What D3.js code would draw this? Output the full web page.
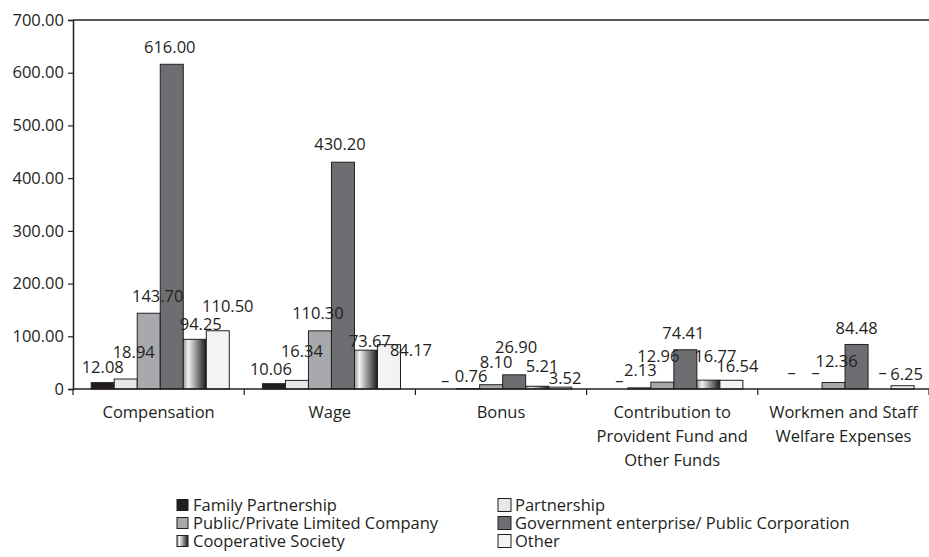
<!DOCTYPE html>
<html>
<head>
<meta charset="utf-8">
<script src="https://cdn.jsdelivr.net/npm/d3@7"></script>
<style>
  body { margin: 0; background: #fff; }
  text { font-family: "Open Sans", sans-serif; font-size: 16.5px; fill: #231f20; }
</style>
</head>
<body>
<svg id="chart" width="929" height="557"></svg>
<script>
// categories (multi-line labels)
const categories = [
  ["Compensation"],
  ["Wage"],
  ["Bonus"],
  ["Contribution to", "Provident Fund and", "Other Funds"],
  ["Workmen and Staff", "Welfare Expenses"]
];
const series = [
  "Family Partnership",
  "Partnership",
  "Public/Private Limited Company",
  "Government enterprise/ Public Corporation",
  "Cooperative Society",
  "Other"
];
// null = shown as a dash in the source
const familyPartnership = [12.08, 10.06, null, null, null];
const partnership       = [18.94, 16.34, 0.76, 2.13, null];
const publicPrivate     = [143.70, 110.30, 8.10, 12.96, 12.36];
const government        = [616.00, 430.20, 26.90, 74.41, 84.48];
const cooperative       = [94.25, 73.67, 5.21, 16.77, null];
const other             = [110.50, 84.17, 3.52, 16.54, 6.25];
const yTicks = [0, 100, 200, 300, 400, 500, 600, 700];

const values = [familyPartnership, partnership, publicPrivate, government, cooperative, other];

// label nudges [dx, gap above bar], per category then series (labels were hand-placed)
const labelNudge = [
  [[0, 10], [8, 21], [9, 11], [-2, 11], [6, 9], [10, 19]],
  [[-3, 9], [5, 23], [-2, 12], [-3, 12], [4, 3], [22, -11]],
  [[0, 3], [3, 7], [5, 17], [2, 22], [5, 14], [5, 3]],
  [[3, 3], [1, 12], [-4, 20], [-2, 11], [7, 18], [6, 8]],
  [[4, 11], [5, 11], [3, 15], [0, 10], [3, 11], [4, 6]]
];

const fills = ["#231f20", "#e6e7e8", "#a7a9ac", "#6d6e71", "url(#coopGrad)", "#f3f3f3"];

const svg = d3.select("#chart");
const margin = { top: 20, left: 73, right: 0 };
const width = 929, zeroY = 389;

const defs = svg.append("defs");
const grad = defs.append("linearGradient").attr("id", "coopGrad")
  .attr("x1", "0%").attr("x2", "100%").attr("y1", "0%").attr("y2", "0%");
grad.append("stop").attr("offset", "0%").attr("stop-color", "#9a9a9a");
grad.append("stop").attr("offset", "22%").attr("stop-color", "#f2f2f2");
grad.append("stop").attr("offset", "100%").attr("stop-color", "#1a1a1a");

const x0 = d3.scaleBand()
  .domain(d3.range(categories.length))
  .range([margin.left, width - margin.right])
  .paddingInner(0).paddingOuter(0);

const x1 = d3.scaleBand()
  .domain(d3.range(series.length))
  .range([0, x0.bandwidth()])
  .paddingInner(0).paddingOuter(0.72).align(0.55);

const y = d3.scaleLinear().domain([0, 700]).range([zeroY, margin.top]);

// top border
svg.append("line")
  .attr("x1", margin.left).attr("x2", width)
  .attr("y1", y(700)).attr("y2", y(700))
  .attr("stroke", "#231f20").attr("stroke-width", 1.5);

// y axis
const yAxis = d3.axisLeft(y)
  .tickValues(yTicks)
  .tickSize(5)
  .tickPadding(4)
  .tickFormat(d => d === 0 ? "0" : d.toFixed(2));
const yG = svg.append("g")
  .attr("transform", `translate(${margin.left},0)`)
  .call(yAxis);
yG.select(".domain").attr("stroke", "#231f20").attr("stroke-width", 1.5);
yG.selectAll(".tick line").attr("stroke", "#231f20").attr("stroke-width", 1.2);
yG.selectAll(".tick text")
  .style("font-family", "'Open Sans', sans-serif")
  .style("font-size", "16.5px")
  .attr("fill", "#231f20");

// bars
const groups = svg.selectAll(".group")
  .data(categories)
  .enter()
  .append("g")
  .attr("class", "group")
  .attr("transform", (d, i) => `translate(${x0(i)},0)`);

groups.each(function (cat, ci) {
  const g = d3.select(this);
  const row = series.map((s, si) => ({ si, v: values[si][ci] }));

  g.selectAll("rect")
    .data(row.filter(d => d.v !== null))
    .enter()
    .append("rect")
    .attr("x", d => x1(d.si))
    .attr("width", x1.bandwidth())
    .attr("y", d => y(d.v))
    .attr("height", d => zeroY - y(d.v))
    .attr("fill", d => fills[d.si])
    .attr("stroke", "#231f20")
    .attr("stroke-width", 1);

  g.selectAll("text.val")
    .data(row)
    .enter()
    .append("text")
    .attr("class", "val")
    .attr("text-anchor", "middle")
    .attr("x", d => x1(d.si) + x1.bandwidth() / 2 + labelNudge[ci][d.si][0])
    .attr("y", d => y(d.v === null ? 0 : d.v) - labelNudge[ci][d.si][1])
    .text(d => d.v === null ? "\u2013" : d.v.toFixed(2));
});

// x axis baseline and ticks between categories
svg.append("line")
  .attr("x1", margin.left).attr("x2", width)
  .attr("y1", zeroY).attr("y2", zeroY)
  .attr("stroke", "#231f20").attr("stroke-width", 1.5);

const bounds = d3.range(categories.length).map(i => x0(i)).concat([x0.range()[1]]);
svg.selectAll(".xtick")
  .data(bounds)
  .enter()
  .append("line")
  .attr("x1", d => d).attr("x2", d => d)
  .attr("y1", zeroY).attr("y2", zeroY + 6)
  .attr("stroke", "#231f20").attr("stroke-width", 1.2);

const catLabels = svg.selectAll(".cat")
  .data(categories)
  .enter()
  .append("text")
  .attr("class", "cat")
  .attr("text-anchor", "middle")
  .attr("transform", (d, i) => `translate(${x0(i) + x0.bandwidth() / 2},418)`);
catLabels.selectAll("tspan")
  .data(d => d)
  .enter()
  .append("tspan")
  .attr("x", 0)
  .attr("y", (d, i) => i * 24)
  .text(d => d);

// legend: two columns, filled row by row
const legendCols = [
  { boxX: 177, box: 11, textX: 193 },
  { boxX: 498, box: 13, textX: 515 }
];
const legend = svg.selectAll(".legend")
  .data(series)
  .enter()
  .append("g")
  .attr("class", "legend")
  .attr("transform", (d, i) => `translate(0,${505 + Math.floor(i / 2) * 18})`);

legend.append("rect")
  .attr("x", (d, i) => legendCols[i % 2].boxX)
  .attr("y", (d, i) => -legendCols[i % 2].box / 2)
  .attr("width", (d, i) => legendCols[i % 2].box)
  .attr("height", (d, i) => legendCols[i % 2].box)
  .attr("fill", (d, i) => fills[i])
  .attr("stroke", "#231f20")
  .attr("stroke-width", 1);

legend.append("text")
  .attr("x", (d, i) => legendCols[i % 2].textX)
  .attr("y", 6)
  .text(d => d);
</script>
</body>
</html>
